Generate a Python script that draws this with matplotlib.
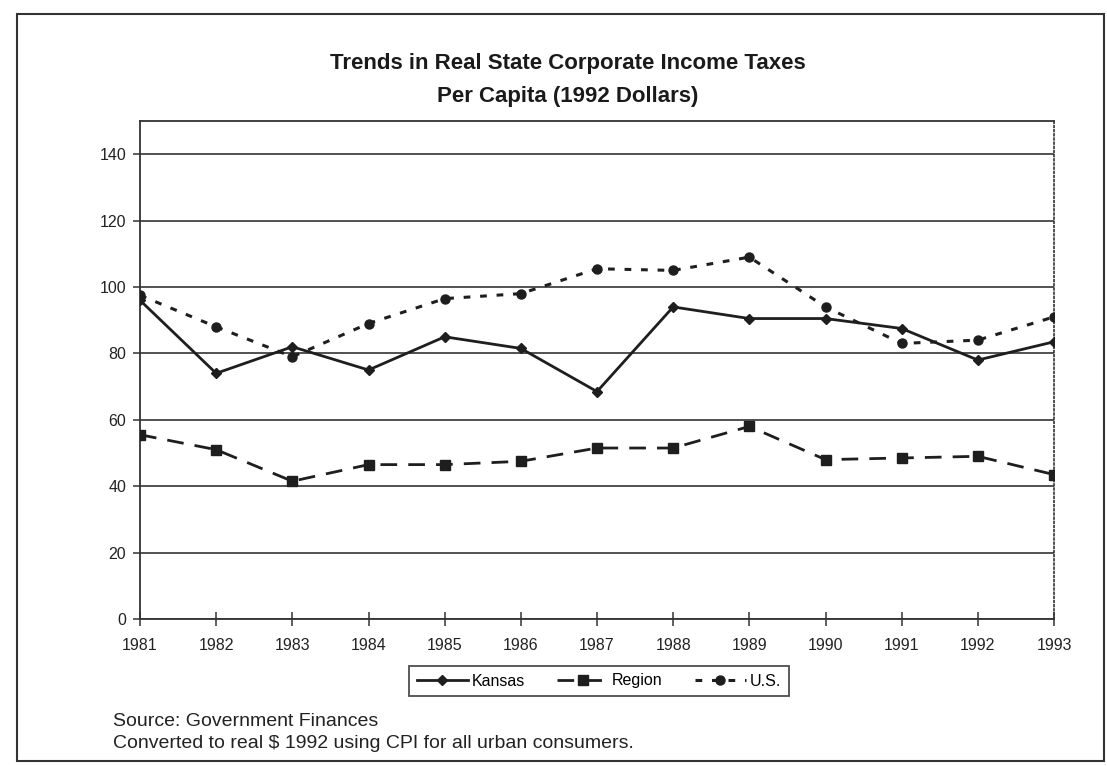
import matplotlib
matplotlib.use("Agg")
import matplotlib.pyplot as plt
from matplotlib.lines import Line2D
from matplotlib.patches import Rectangle

plt.rcParams['font.family'] = ['Liberation Sans', 'DejaVu Sans']

years = [1981, 1982, 1983, 1984, 1985, 1986, 1987, 1988, 1989, 1990, 1991, 1992, 1993]
kansas = [96, 74, 82, 75, 85, 81.5, 68.5, 94, 90.5, 90.5, 87.5, 78, 83.5]
region = [55.5, 51, 41.5, 46.5, 46.5, 47.5, 51.5, 51.5, 58, 48, 48.5, 49, 43.5]
us = [97.5, 88, 79, 89, 96.5, 98, 105.5, 105, 109, 94, 83, 84, 91]
yticks = [0, 20, 40, 60, 80, 100, 120, 140]

title = "Trends in Real State Corporate Income Taxes\nPer Capita (1992 Dollars)"
note1 = "Source: Government Finances"
note2 = "Converted to real $ 1992 using CPI for all urban consumers."

W, H = 1107, 766
fig = plt.figure(figsize=(W / 100, H / 100), dpi=100)
ax = fig.add_axes([140 / W, 1 - 619 / H, (1054 - 140) / W, (619 - 121) / H])

ink = '#1e1e1e'
ax.plot(years, kansas, color=ink, lw=2.0, ls='-', marker='D', ms=5, label='Kansas', zorder=3)
ax.plot(years, region, color=ink, lw=2.0, ls=(0, (6, 4)), marker='s', ms=7, label='Region', zorder=3)
ax.plot(years, us, color=ink, lw=2.2, ls=(0, (2.2, 3.2)), marker='o', ms=6.5, label='U.S.', zorder=3)

ax.set_xlim(years[0], years[-1])
ax.set_ylim(0, 150)
ax.set_xticks(years)
ax.set_xticklabels([str(y) for y in years])
ax.set_yticks(yticks)
ax.yaxis.grid(True, color='#333333', lw=1.2)
ax.set_axisbelow(True)

for s in ['left', 'bottom', 'top']:
    ax.spines[s].set_color('#333333')
    ax.spines[s].set_linewidth(1.3)
ax.spines['right'].set_linestyle((0, (1, 1.5)))
ax.spines['right'].set_color('#333333')
ax.spines['right'].set_linewidth(1.2)

ax.tick_params(axis='x', direction='inout', length=10, width=1.1, color='#333333',
               labelsize=11.5, pad=9, labelcolor='#222222')
ax.tick_params(axis='y', direction='out', length=5, width=1.1, color='#333333',
               labelsize=11.5, pad=5, labelcolor='#222222')

fig.text(568 / W, 1 - 80 / H, title, ha='center', va='center', fontsize=16,
         fontweight='bold', color='#1a1a1a', linespacing=1.75)

handles = [
    Line2D([], [], color=ink, lw=2.0, ls='-', marker='D', ms=5),
    Line2D([], [], color=ink, lw=2.0, ls=(0, (6, 4)), marker='s', ms=7),
    Line2D([], [], color=ink, lw=2.2, ls=(0, (2.2, 3.2)), marker='o', ms=6.5),
]
leg = fig.legend(handles, ['Kansas', 'Region', 'U.S.'], loc='center',
                 bbox_to_anchor=(599 / W, 1 - 681 / H), ncol=3, frameon=True,
                 fontsize=11.5, handlelength=3.2, handletextpad=0.25, columnspacing=2.0,
                 fancybox=False, edgecolor='#222222', borderpad=0.5)
leg.get_frame().set_linewidth(1.3)

fig.text(113 / W, 1 - 721 / H, note1, ha='left', va='center', fontsize=14, color='#222222')
fig.text(113 / W, 1 - 744 / H, note2, ha='left', va='center', fontsize=14, color='#222222')

# outer page frame
fig.patches.append(Rectangle((17 / W, 1 - 761 / H), (1104 - 17) / W, (761 - 14) / H,
                             transform=fig.transFigure, fill=False, edgecolor='#333333',
                             lw=1.5))

fig.savefig('out.png', dpi=100)
